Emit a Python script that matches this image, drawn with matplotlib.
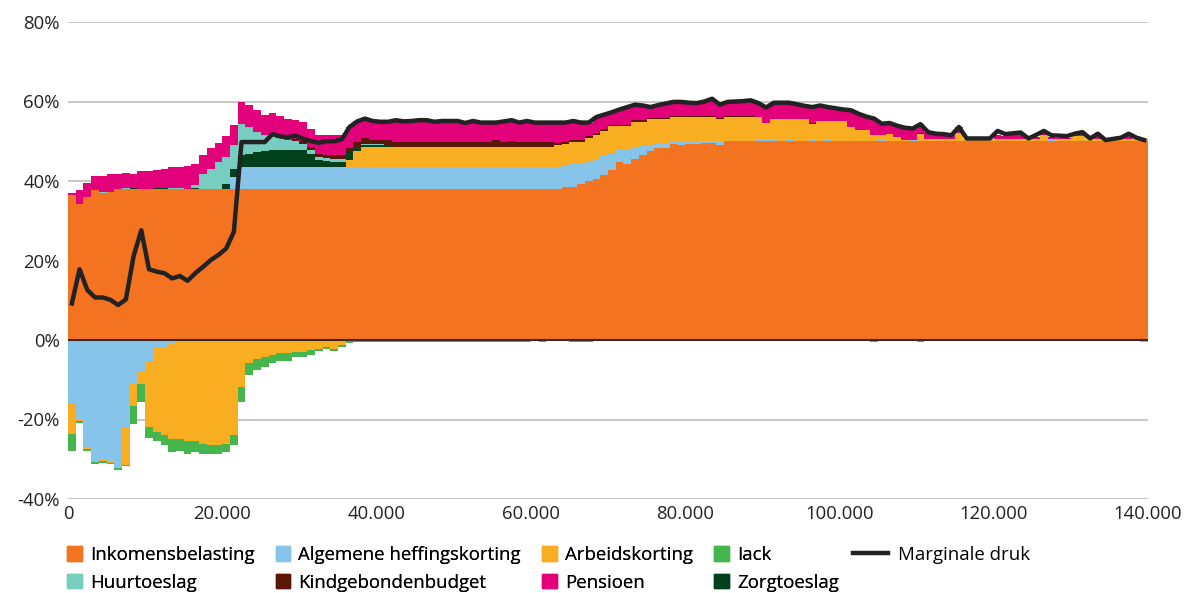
import matplotlib
matplotlib.use("Agg")
import matplotlib.pyplot as plt
from matplotlib.patches import Patch
from matplotlib.lines import Line2D
import numpy as np

plt.rcParams['font.family'] = ['Open Sans', 'DejaVu Sans']

# brackets of 1.000 euro income, 0 .. 139.000 (left edge of each bar)
income = np.arange(140) * 1000

# ---- positive parts (percent) ----
inkomensbelasting = ([36.6, 34.3, 36.0, 37.7, 37.0, 37.2] + [38.0] * 58 +
                     [38.5, 38.5, 39.3, 40.0, 40.6, 41.5, 42.7, 44.8, 44.4, 45.6, 46.5,
                      47.5, 48.2, 48.2, 49.2, 49.0, 49.4, 49.4, 49.6, 49.6, 49.0] +
                     [50.1] * 55)

ahk_pos = ([0] * 21 + [3.0] + [5.4] * 42 +
           [5.3, 5.9, 5.1, 5.1, 5.0, 4.8, 4.2, 3.1, 3.5, 2.8, 2.5, 1.5, 1.4, 1.4,
            0.6, 0.8, 0.6, 0.6, 0.4, 0.4, 1.0] +
           [0, 0, 0, 0, 0.3, 0.3, 0.3, 0, 0.3, 0, 0, 0.3, 0, 0.3, 0, 0, 0, 0, 0, 0,
            0.3, 0, 0, 0, 0.3] + [0] * 17 + [0.3] + [0] * 12)

ak_pos = ([0] * 36 + [2.0, 4.2] + [5.2] * 25 +
          [5.6, 5.4, 5.4, 5.4, 5.6, 5.9, 6.3, 6.9, 5.9, 5.9, 6.5, 5.9, 6.5, 5.9, 5.9,
           6.3, 6.3, 6.1, 6.1, 6.1, 6.1, 5.6] +
          [6.0, 6.0, 6.0, 6.0, 5.7, 4.2, 5.3, 5.6, 5.3, 5.6, 5.6, 4.0, 4.9, 4.6, 4.9,
           4.9, 3.5, 2.7, 2.7, 1.4, 1.1, 1.7, 1.0, 0.2, 0.0] +
          [1.7, 0.4, 0.4, 0.4, 0.4, 2.0] + [0.4] * 10 + [1.4, 0.1, 0.4, 0.4, 1.1, 1.1] +
          [0.4] * 8)

zorgtoeslag = ([0] * 8 + [0.3] + [0] * 2 + [0.3, 0.3] + [0] * 3 + [0.3] + [0] * 3 +
               [1.3, 2.0, 3.1, 3.5, 3.8, 4.1, 4.3, 4.3, 4.3, 4.3, 4.5, 3.3, 1.8, 1.6,
                1.3, 1.3, 1.9, 1.0, 0.4, 0.4, 0.4, 0.4] + [0] * 98)

huurtoeslag = ([0] * 4 + [0.3] + [0] * 2 + [0.3] + [0] * 5 + [0.3, 0.3, 0] +
               [0.6, 3.7, 5.0, 6.8, 6.8, 6.0, 7.9, 6.7, 5.1, 4.0, 3.8, 3.2, 2.7, 2.4,
                1.5, 1.0, 0.9, 0.8, 0.8, 0.8, 0, 0, 0.4, 0.3, 0.2] + [0] * 99)

kindgebonden = ([0] * 26 +
                [0.5, 0, 0, 0.5, 0.7, 0.9, 0.8, 0.7, 1.0, 1.0, 0.9, 1.1, 1.3, 0.9, 1.0, 1.2] +
                [1.2] * 13 + [1.6, 1.2, 1.5] + [1.2] * 5 +
                [0.6, 0.6, 0.5, 0.5, 0.5, 0.5, 0.5] + [0.4] * 6 + [0.3] * 13 +
                [0] * 7 + [0.3] + [0] * 13 + [0.3] + [0] * 29)

pensioen = ([0.4, 3.4, 3.4, 3.6, 4.0, 4.5, 3.7, 3.8, 3.4, 4.5, 4.5, 4.5, 4.7, 5.1, 5.1,
             5.8, 5.3, 4.8, 5.2, 4.8, 5.2] +
            [5.2, 5.5, 5.4, 5.5, 5.0, 5.2, 5.5, 5.3, 4.7, 4.8, 4.6, 4.6, 5.0, 5.0, 5.0,
             5.4, 5.3, 5.0, 4.9, 4.7, 4.7] +
            [5.5, 5.2, 5.3, 5.5, 5.5, 5.1, 5.3, 5.3, 5.3, 4.8, 5.3, 4.9, 4.9, 4.5, 5.2,
             5.2, 4.9, 5.3, 4.9, 4.9, 4.9] +
            [5.1, 4.9, 4.8, 4.4, 3.5, 4.1, 3.6, 3.1, 3.8, 4.4, 3.9, 3.7, 2.7, 3.3, 3.7,
             3.5, 3.5, 3.3, 3.2, 3.6, 4.3, 3.3] +
            [3.5, 3.6, 3.7, 3.9, 3.5, 3.9, 4.0, 4.0, 4.0, 3.6, 3.2, 3.9, 4.0, 3.6, 3.3,
             3.0, 4.2, 4.1, 3.4, 4.2, 2.9, 2.8, 2.8, 3.1, 2.8, 2.2, 1.8, 1.4, 1.3, 1.0,
             1.5] +
            [0, 0, 0, 0, 1.0, 0.8, 1.0, 1.2, 0, 0.6, 0.6, 0.5, 0.4, 0.3, 0.3, 0.6, 0,
             0.8, 0, 0, 0.2, 0.8, 0, 0])

# ---- negative parts (percent) ----
ahk_neg = ([-16.1, -19.9, -27.0, -30.4, -30.1, -30.5, -31.9, -22.2, -11.1, -8.1, -5.4,
            -1.8, -1.8, -1.1, -0.3] + [0] * 125)

ak_neg = ([-7.5, -0.4, -0.4, -0.4, -0.4, -0.4, -0.4, -9.2, -5.4, -3.0, -16.4, -21.4,
           -22.1, -23.8, -24.6, -25.4, -25.4, -26.1, -26.5, -26.5, -26.1, -23.9, -11.7,
           -5.9, -4.9, -4.4, -3.8, -3.3, -3.3, -2.9, -2.9, -2.5, -2.3, -1.8, -2.3, -1.3,
           -0.1] + [0] * 102 + [-0.5])

iack_neg = ([-4.3, -0.5, -0.4, -0.4, -0.5, -0.4, -0.4, -0.4, -4.7, -4.4, -2.9, -2.3,
             -2.5, -3.3, -2.9, -3.2, -2.8, -2.5, -2.1, -2.1, -2.1, -2.5, -3.8, -2.9,
             -2.6, -2.3, -2.1, -2.1, -2.1, -1.5, -1.5, -1.2, -0.5, -0.5, -0.5, -0.4] +
            [-0.6] * 24 + [0, -0.6, 0, 0, 0] + [-0.6] * 3 + [0] * 36 + [-0.6] +
            [0] * 5 + [-0.6] + [0] * 29)

# marginale druk, at the middle of each bracket
marginale_druk = [9.2, 17.8, 12.6, 10.7, 10.7, 10.1, 8.8, 10.2, 21.1, 27.6,
                  17.8, 17.2, 16.8, 15.5, 16.1, 14.9, 16.8, 18.4, 20.1, 21.4,
                  23.0, 27.2, 49.8, 49.8, 49.8, 49.8, 51.8, 51.2, 51.0, 51.4,
                  50.6, 50.0, 49.6, 50.0, 50.0, 50.5, 53.6, 55.0, 55.7, 55.1,
                  54.9, 54.9, 55.3, 55.0, 55.1, 55.3, 55.3, 54.9, 55.1, 55.1,
                  55.1, 54.6, 55.1, 54.7, 54.7, 54.7, 55.0, 55.3, 54.7, 55.1,
                  54.7, 54.7, 54.7, 54.7, 54.7, 55.1, 54.7, 54.7, 56.1, 56.7,
                  57.3, 58.0, 58.6, 59.2, 59.0, 58.6, 59.1, 59.5, 59.9, 59.9,
                  59.7, 59.6, 60.0, 60.7, 59.2, 59.9, 60.0, 60.1, 60.3, 59.6,
                  58.5, 59.7, 59.7, 59.7, 59.3, 58.9, 58.6, 59.0, 58.6, 58.3,
                  58.0, 57.8, 56.9, 56.2, 55.7, 54.4, 54.6, 53.9, 53.4, 53.2,
                  54.3, 52.3, 51.9, 51.8, 51.5, 53.6, 50.7, 50.7, 50.7, 50.7,
                  52.6, 51.8, 52.0, 52.2, 50.7, 51.6, 52.6, 51.5, 51.4, 51.3,
                  51.9, 52.3, 50.7, 51.9, 50.3, 50.6, 50.9, 51.9, 50.9, 50.3]

c_ink = '#f47321'
c_ahk = '#86c5e9'
c_ak = '#f9ad21'
c_iack = '#45b54d'
c_huur = '#77cdc0'
c_kgb = '#5a1709'
c_pens = '#e3007b'
c_zorg = '#00401a'

fig = plt.figure(figsize=(11.86, 5.93), dpi=100)
ax = fig.add_axes([68 / 1186, 1 - 499 / 593, 1080 / 1186, 477 / 593])

pos = [(inkomensbelasting, c_ink), (ahk_pos, c_ahk), (ak_pos, c_ak),
       (zorgtoeslag, c_zorg), (huurtoeslag, c_huur), (kindgebonden, c_kgb),
       (pensioen, c_pens)]
bottom = np.zeros(140)
for vals, col in pos:
    vals = np.array(vals, dtype=float)
    ax.bar(income, vals, width=1000, bottom=bottom, align='edge', color=col,
           linewidth=0, zorder=2)
    bottom += vals

neg = [(ahk_neg, c_ahk), (ak_neg, c_ak), (iack_neg, c_iack)]
bottom = np.zeros(140)
for vals, col in neg:
    vals = np.array(vals, dtype=float)
    ax.bar(income, vals, width=1000, bottom=bottom, align='edge', color=col,
           linewidth=0, zorder=2)
    bottom += vals

ax.axhline(0, color='#3b2a22', lw=1.5, zorder=3)
ax.plot(income + 500, marginale_druk, color='#222222', lw=3.2, zorder=4)

ax.set_xlim(0, 140000)
ax.set_ylim(-40, 80)
ax.set_yticks(range(-40, 81, 20))
ax.set_yticklabels([f"{v}%" for v in range(-40, 81, 20)])
ax.set_xticks(range(0, 140001, 20000))
ax.set_xticklabels([f"{v:,}".replace(',', '.') for v in range(0, 140001, 20000)])
ax.grid(axis='y', color='#c3c3c3', lw=1.3)
ax.set_axisbelow(True)
ax.tick_params(length=0, labelsize=13.3, colors='#222222')
ax.tick_params(axis='y', pad=6)
ax.tick_params(axis='x', pad=4)
for s in ax.spines.values():
    s.set_visible(False)

handles = [Patch(color=c_ink), Patch(color=c_huur), Patch(color=c_ahk), Patch(color=c_kgb),
           Patch(color=c_ak), Patch(color=c_pens), Patch(color=c_iack), Patch(color=c_zorg)]
labels = ['Inkomensbelasting', 'Huurtoeslag', 'Algemene heffingskorting',
          'Kindgebondenbudget', 'Arbeidskorting', 'Pensioen', 'Iack', 'Zorgtoeslag']
leg = fig.legend(handles, labels, ncol=4, loc='upper left',
                 bbox_to_anchor=(67 / 1186, 1 - 546 / 593), frameon=False,
                 handlelength=0.8, handleheight=0.8, handletextpad=0.42,
                 columnspacing=1.15, labelspacing=0.52, fontsize=13.4,
                 borderpad=0, borderaxespad=0)
fig.add_artist(leg)
fig.legend([Line2D([], [], color='#222222', lw=3.2)], ['Marginale druk'],
           loc='upper left', bbox_to_anchor=(853 / 1186, 1 - 546 / 593),
           frameon=False, handlelength=1.9, handletextpad=0.5, fontsize=13.4,
           borderpad=0, borderaxespad=0)

fig.savefig('out.png', dpi=100)
